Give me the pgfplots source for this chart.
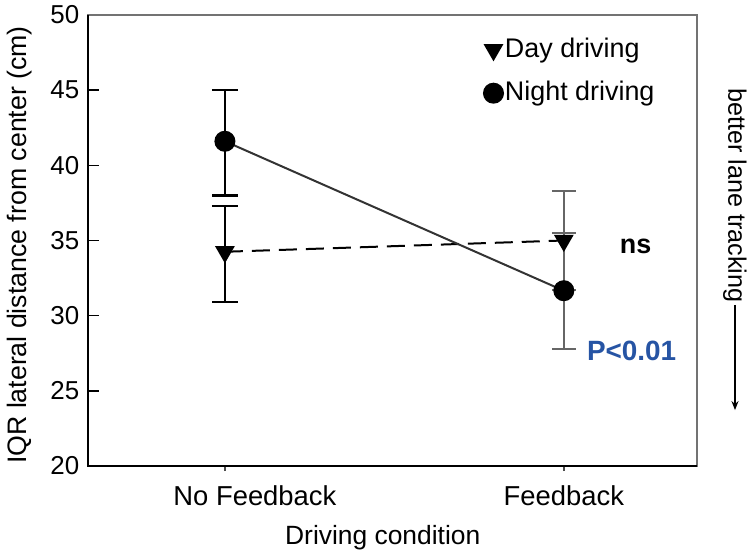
\documentclass[border=0pt]{standalone}
\usepackage{pgfplots}
\pgfplotsset{compat=1.18}
\usepackage{fontspec}
\setmainfont{Liberation Sans}
\usetikzlibrary{calc,arrows.meta}
\definecolor{pblue}{RGB}{38,84,164}
\begin{document}
\fontsize{26}{31}\selectfont
\begin{tikzpicture}
\begin{axis}[
  name=ax,
  scale only axis,
  width=609bp, height=451bp,
  xmin=-0.404, xmax=1.393,
  ymin=20, ymax=50,
  xtick={0,1}, xticklabels={\hspace*{60bp}No Feedback, Feedback},
  ytick={20,25,...,50},
  /pgf/number format/assume math mode=true,
  tick pos=left,
  ytick align=inside,
  xtick align=outside,
  major tick length=11bp,
  xtick style={/pgfplots/major tick length=5bp, line width=1.5bp, black!70},
  ytick style={line width=1.5bp, black},
  xticklabel style={anchor=center, yshift=-19bp, font=\fontsize{27.5}{32}\selectfont},
  yticklabel style={anchor=east},
  axis line style={line width=1.5bp, black!55},
  xlabel={Driving condition},
  ylabel={IQR lateral distance from center (cm)},
  every axis x label/.style={at={(axis description cs:0.484,-0.16)}, anchor=center, font=\fontsize{26.5}{31}\selectfont},
  every axis y label/.style={at={(axis description cs:-0.112,0.49)}, anchor=center, rotate=90, font=\fontsize{26.8}{31}\selectfont},
  clip=false,
  legend style={draw=none, fill=none, at={(rel axis cs:0.645,0.958)}, anchor=north west, row sep=16bp, font=\fontsize{27}{30}\selectfont},
  legend cell align=left,
  legend image code/.code={\draw[#1, draw=none] plot coordinates {(0.2cm,0cm)};},
]
% error bars
\addplot[draw=none, mark=none, forget plot, error bars/.cd, y dir=both, y explicit,
  error bar style={line width=2.5bp, black},
  error mark options={rotate=90, mark size=13bp, line width=2.5bp, black}]
  coordinates {(0,34.25) += (0,3.05) -= (0,3.35) (0,41.6) += (0,3.4) -= (0,3.6)};
\addplot[draw=none, mark=none, forget plot, error bars/.cd, y dir=both, y explicit,
  error bar style={line width=2bp, black!60},
  error mark options={rotate=90, mark size=12bp, line width=2bp, black!60}]
  coordinates {(1,35.0) += (0,3.3) -= (0,3.3) (1,31.66) += (0,3.85) -= (0,3.85)};
% series
\addplot[black, line width=2bp, dash pattern=on 18bp off 9bp, mark=triangle*,
  mark size=9.5bp, mark options={solid, fill=black, draw=black, rotate=180}]
  coordinates {(0,34.25) (1,35.0)};
\addlegendentry{Day driving}
\addplot[black!80, line width=2bp, mark=*, mark size=9.5bp,
  mark options={solid, fill=black, draw=black}]
  coordinates {(0,41.6) (1,31.66)};
\addlegendentry{Night driving}
\draw[black, line width=2bp] (rel axis cs:0,1) -- (rel axis cs:0,0) -- (rel axis cs:1,0);
\node[font=\bfseries\fontsize{27}{30}\selectfont, anchor=center] at (axis cs:1.212,34.6) {ns};
\node[font=\bfseries\fontsize{28}{30}\selectfont, text=pblue, anchor=center] at (axis cs:1.20,27.65) {P<0.01};
\node[font=\fontsize{25.3}{28}\selectfont, rotate=-90, anchor=west, inner sep=0pt] at (rel axis cs:1.0624,0.838) {better lane tracking};
\draw[line width=1.5bp, -{Stealth[length=9bp,width=7bp]}] (rel axis cs:1.0624,0.357) -- (rel axis cs:1.0624,0.124);
\end{axis}
\pgfresetboundingbox
\path ($(ax.south west)+(-88bp,-90bp)$) rectangle ($(ax.south west)+(663bp,466bp)$);
\end{tikzpicture}
\end{document}
